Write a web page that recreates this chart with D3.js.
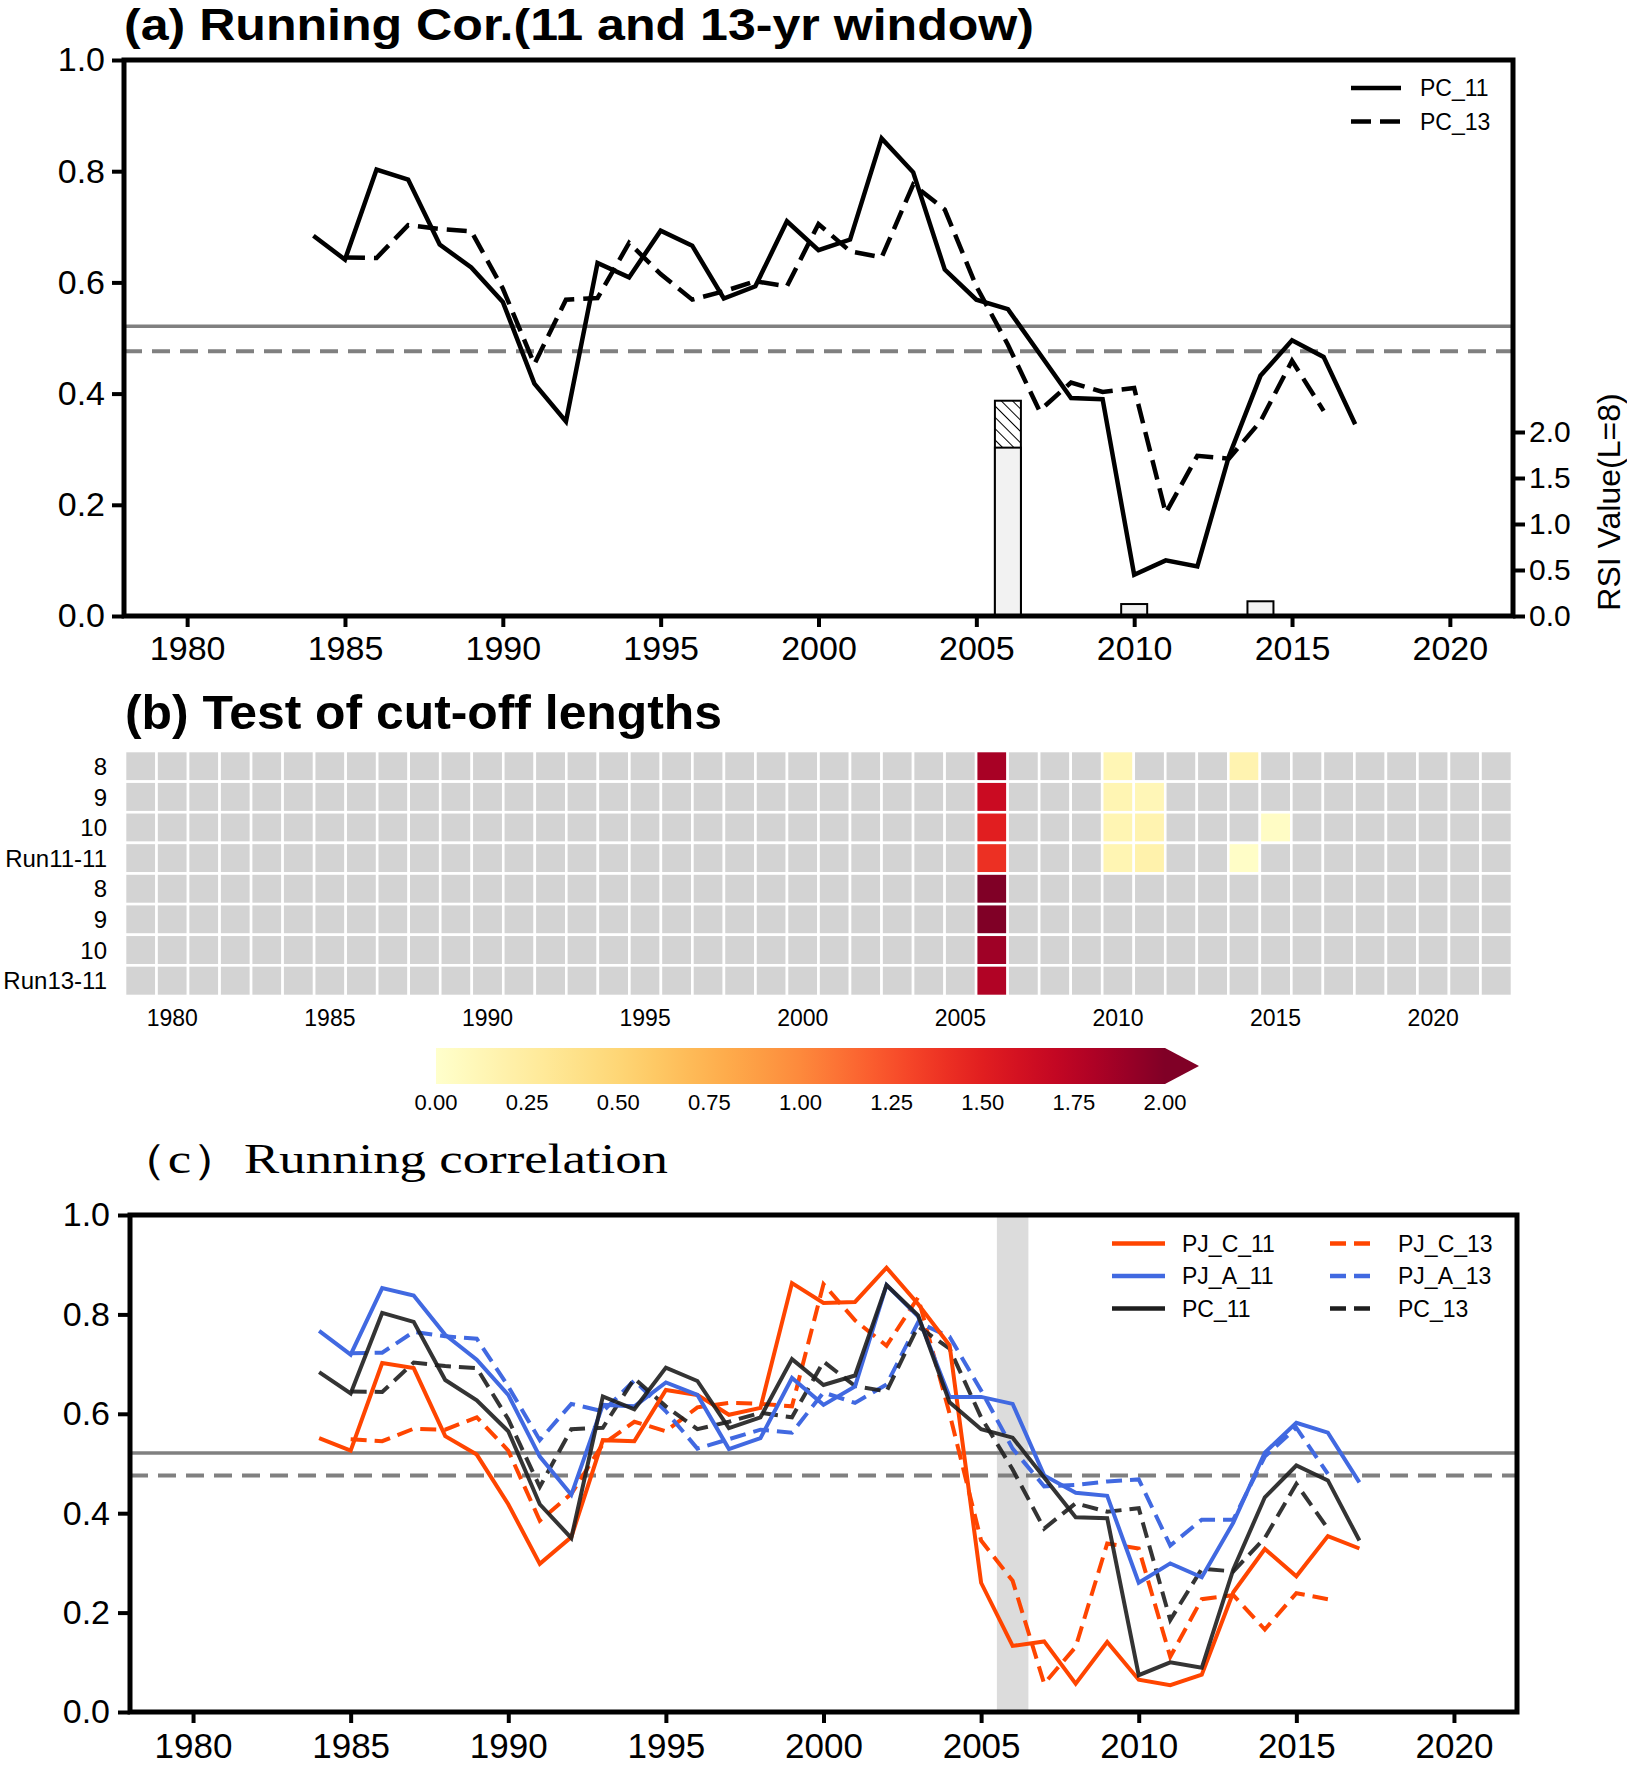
<!DOCTYPE html>
<html lang="en">
<head>
<meta charset="UTF-8">
<title>Running correlation and RSI test</title>
<script src="https://d3js.org/d3.v7.min.js"></script>
<style>
  body { margin: 0; background: #fff; }
  svg { display: block; }
  .tick text { font-family: "Liberation Sans", Arial, sans-serif; fill: #000; }
</style>
</head>
<body>
<script>
// ---- data ----
const years11 = d3.range(1984, 2018);   // 11-yr window centres
const years13 = d3.range(1985, 2017);   // 13-yr window centres

const pc11  = [0.684,0.641,0.803,0.785,0.668,0.627,0.565,0.418,0.350,0.635,0.609,0.693,0.666,0.571,0.593,0.710,
               0.658,0.677,0.859,0.798,0.623,0.569,0.552,0.472,0.392,0.390,0.074,0.100,0.089,0.287,0.432,0.496,0.466,0.345];
const pc13  = [0.645,0.644,0.703,0.696,0.692,0.589,0.453,0.569,0.572,0.671,0.615,0.569,0.584,0.602,0.593,
               0.705,0.656,0.645,0.776,0.731,0.593,0.488,0.369,0.420,0.403,0.410,0.185,0.288,0.283,0.350,0.459,0.369];
const pjc11 = [0.551,0.526,0.702,0.692,0.555,0.518,0.418,0.298,0.352,0.547,0.545,0.648,0.638,0.598,0.612,0.863,
               0.823,0.825,0.894,0.821,0.738,0.260,0.133,0.142,0.057,0.141,0.065,0.054,0.075,0.241,0.328,0.273,0.354,0.329];
const pjc13 = [0.549,0.545,0.570,0.568,0.593,0.526,0.385,0.439,0.539,0.584,0.565,0.613,0.622,0.620,0.615,
               0.861,0.788,0.737,0.834,0.600,0.345,0.264,0.057,0.131,0.339,0.329,0.111,0.227,0.235,0.166,0.239,0.227];
const pja11 = [0.767,0.719,0.853,0.838,0.759,0.709,0.638,0.514,0.437,0.618,0.615,0.663,0.638,0.529,0.551,0.672,
               0.618,0.655,0.859,0.796,0.634,0.634,0.620,0.476,0.441,0.435,0.260,0.299,0.271,0.381,0.522,0.582,0.562,0.462];
const pja13 = [0.722,0.723,0.765,0.756,0.751,0.655,0.547,0.620,0.605,0.667,0.605,0.530,0.549,0.568,0.562,
               0.643,0.622,0.659,0.784,0.755,0.647,0.530,0.454,0.457,0.464,0.468,0.335,0.387,0.387,0.514,0.572,0.479];

// significance thresholds (solid: 11-yr, dashed: 13-yr)
const sig11 = 0.521, sig13 = 0.476;

// RSI heat map: rows x years, only non-zero cells listed
const heatYears = d3.range(1979, 2023);
const rowLabels = ["8", "9", "10", "Run11-11", "8", "9", "10", "Run13-11"];
const rsiCells = [
  [0, 2006, 1.83], [0, 2010, 0.13], [0, 2014, 0.16],
  [1, 2006, 1.66], [1, 2010, 0.14], [1, 2011, 0.12],
  [2, 2006, 1.50], [2, 2010, 0.14], [2, 2011, 0.16], [2, 2015, 0.04],
  [3, 2006, 1.40], [3, 2010, 0.14], [3, 2011, 0.18], [3, 2014, 0.03],
  [4, 2006, 2.34], [5, 2006, 2.40], [6, 2006, 1.87], [7, 2006, 1.79]
];
const cbarTicks = [0, 0.25, 0.5, 0.75, 1.0, 1.25, 1.5, 1.75, 2.0];
const yearTicks = [1980, 1985, 1990, 1995, 2000, 2005, 2010, 2015, 2020];
const corTicks = [0, 0.2, 0.4, 0.6, 0.8, 1.0];
const rsiTicks = [0, 0.5, 1.0, 1.5, 2.0];
const shadeYears = [2005.5, 2006.5];

const W = 1627, H = 1778;
const svg = d3.select("body").append("svg").attr("width", W).attr("height", H);

const SANS = "'Liberation Sans', Arial, sans-serif";
const NARROW = "'Liberation Sans Narrow', 'Liberation Sans', Arial, sans-serif";

// hatch for the 13-yr RSI bar
const defs = svg.append("defs");
defs.append("pattern")
    .attr("id", "hatch")
    .attr("patternUnits", "userSpaceOnUse")
    .attr("width", 8).attr("height", 8)
    .attr("patternTransform", "rotate(-45)")
    .append("line")
    .attr("x1", 0).attr("y1", 0).attr("x2", 0).attr("y2", 8)
    .attr("stroke", "#000").attr("stroke-width", 2);

function styleAxis(g, size) {
    g.select(".domain").remove();
    g.selectAll(".tick line").attr("stroke", "#000").attr("stroke-width", 4);
    g.selectAll(".tick text").attr("font-size", size);
}

// ================= panel (a) =================
const xA = d3.scaleLinear().domain([1978, 2022]).range([124, 1513]);
const yA = d3.scaleLinear().domain([0, 1]).range([616, 60]);
const yR = d3.scaleLinear().domain([0, 2]).range([616, 432]);

svg.append("text")
    .attr("x", 124).attr("y", 40)
    .attr("font-family", NARROW).attr("font-weight", "bold").attr("font-size", 44)
    .attr("textLength", 910).attr("lengthAdjust", "spacingAndGlyphs")
    .text("(a) Running Cor.(11 and 13-yr window)");

const gA = svg.append("g");

gA.append("line")
    .attr("x1", xA(1978)).attr("x2", xA(2022)).attr("y1", yA(sig11)).attr("y2", yA(sig11))
    .attr("stroke", "#808080").attr("stroke-width", 3.5);
gA.append("line")
    .attr("x1", xA(1978)).attr("x2", xA(2022)).attr("y1", yA(sig13)).attr("y2", yA(sig13))
    .attr("stroke", "#808080").attr("stroke-width", 4).attr("stroke-dasharray", "18,10");

// RSI bars (L=8): 13-yr behind (hatched), 11-yr in front
const barW = 26;
const rsi13 = rsiCells.filter(c => c[0] === 4);
const rsi11 = rsiCells.filter(c => c[0] === 0);
gA.selectAll(".bar13").data(rsi13).join("rect")
    .attr("x", d => xA(d[1]) - barW / 2).attr("width", barW)
    .attr("y", d => yR(d[2])).attr("height", d => yR(0) - yR(d[2]))
    .attr("fill", "url(#hatch)").attr("stroke", "#000").attr("stroke-width", 2);
gA.selectAll(".bar11").data(rsi11).join("rect")
    .attr("x", d => xA(d[1]) - barW / 2).attr("width", barW)
    .attr("y", d => yR(d[2])).attr("height", d => yR(0) - yR(d[2]))
    .attr("fill", "#f2f2f2").attr("stroke", "#000").attr("stroke-width", 2);

const lineA = d3.line().x(d => xA(d[0])).y(d => yA(d[1]));
gA.append("path").attr("d", lineA(d3.zip(years13, pc13)))
    .attr("fill", "none").attr("stroke", "#000").attr("stroke-width", 4.5)
    .attr("stroke-dasharray", "20,9");
gA.append("path").attr("d", lineA(d3.zip(years11, pc11)))
    .attr("fill", "none").attr("stroke", "#000").attr("stroke-width", 4.5);

// frame + axes
gA.append("rect").attr("x", 124).attr("y", 60).attr("width", 1513 - 124).attr("height", 556)
    .attr("fill", "none").attr("stroke", "#000").attr("stroke-width", 5);

gA.append("g").attr("transform", "translate(124,0)")
    .call(d3.axisLeft(yA).tickValues(corTicks).tickFormat(d3.format(".1f")).tickSize(12).tickPadding(7))
    .call(g => styleAxis(g, 34));
gA.append("g").attr("transform", "translate(0,616)")
    .call(d3.axisBottom(xA).tickValues(yearTicks).tickFormat(d3.format("d")).tickSize(11).tickPadding(9))
    .call(g => styleAxis(g, 34));
gA.append("g").attr("transform", "translate(1513,0)")
    .call(d3.axisRight(yR).tickValues(rsiTicks).tickFormat(d3.format(".1f")).tickSize(12).tickPadding(4))
    .call(g => styleAxis(g, 30));

gA.append("text")
    .attr("transform", "translate(1620,502) rotate(-90)")
    .attr("text-anchor", "middle")
    .attr("font-family", SANS).attr("font-size", 32)
    .text("RSI Value(L=8)");

// legend (a)
const legA = [["PC_11", null], ["PC_13", "20,9"]];
legA.forEach((d, i) => {
    const y = 88 + i * 33.6;
    gA.append("line").attr("x1", 1351).attr("x2", 1401).attr("y1", y).attr("y2", y)
        .attr("stroke", "#000").attr("stroke-width", 4.5)
        .attr("stroke-dasharray", d[1] ? "20,9" : null);
    gA.append("text").attr("x", 1420).attr("y", y).attr("dy", "0.36em")
        .attr("font-family", SANS).attr("font-size", 23).text(d[0]);
});

// ================= panel (b) =================
svg.append("text")
    .attr("x", 125).attr("y", 729)
    .attr("font-family", NARROW).attr("font-weight", "bold").attr("font-size", 48)
    .attr("textLength", 597).attr("lengthAdjust", "spacingAndGlyphs")
    .text("(b) Test of cut-off lengths");

const xB = d3.scaleBand().domain(heatYears).range([125, 1512]);
const yB = d3.scaleBand().domain(d3.range(rowLabels.length)).range([751, 996]);
const color = d3.scaleSequential(d3.interpolateYlOrRd).domain([0, 2]).clamp(true);
const cellVal = new Map(rsiCells.map(c => [c[0] + "-" + c[1], c[2]]));

const grid = [];
rowLabels.forEach((r, i) => heatYears.forEach(yr => grid.push({ row: i, year: yr, v: cellVal.get(i + "-" + yr) })));

const gB = svg.append("g");
gB.selectAll("rect").data(grid).join("rect")
    .attr("x", d => xB(d.year)).attr("y", d => yB(d.row))
    .attr("width", xB.bandwidth()).attr("height", yB.bandwidth())
    .attr("fill", d => d.v === undefined ? "#d3d3d3" : color(d.v))
    .attr("stroke", "#fff").attr("stroke-width", 2.6);

gB.selectAll(".rowlab").data(rowLabels).join("text")
    .attr("x", 107).attr("y", (d, i) => yB(i) + yB.bandwidth() / 2).attr("dy", "0.36em")
    .attr("text-anchor", "end").attr("font-family", SANS).attr("font-size", 24)
    .text(d => d);

gB.selectAll(".collab").data(yearTicks).join("text")
    .attr("x", d => xB(d) + xB.bandwidth() / 2).attr("y", 1026)
    .attr("text-anchor", "middle").attr("font-family", SANS).attr("font-size", 23)
    .text(d => d);

// colour bar
const xCb = d3.scaleLinear().domain([0, 2]).range([436, 1165]);
const grad = defs.append("linearGradient").attr("id", "cbar");
d3.range(0, 1.0001, 0.05).forEach(t => {
    grad.append("stop").attr("offset", t).attr("stop-color", d3.interpolateYlOrRd(t));
});
gB.append("rect").attr("x", xCb(0)).attr("y", 1048).attr("width", xCb(2) - xCb(0)).attr("height", 36)
    .attr("fill", "url(#cbar)");
gB.append("path")
    .attr("d", `M${xCb(2)},1048 L${xCb(2) + 34},1066 L${xCb(2)},1084 Z`)
    .attr("fill", d3.interpolateYlOrRd(1));
gB.selectAll(".cblab").data(cbarTicks).join("text")
    .attr("x", d => xCb(d)).attr("y", 1110)
    .attr("text-anchor", "middle").attr("font-family", SANS).attr("font-size", 22)
    .text(d => d3.format(".2f")(d));

// ================= panel (c) =================
svg.append("text")
    .attr("x", 115).attr("y", 1173)
    .attr("font-family", "'Liberation Serif', 'DejaVu Serif', serif").attr("font-size", 42)
    .attr("textLength", 553).attr("lengthAdjust", "spacingAndGlyphs")
    .text("（c）Running correlation");

const xC = d3.scaleLinear().domain([1978, 2022]).range([130, 1517]);
const yC = d3.scaleLinear().domain([0, 1]).range([1712, 1215]);
const gC = svg.append("g");

gC.append("rect")
    .attr("x", xC(shadeYears[0])).attr("width", xC(shadeYears[1]) - xC(shadeYears[0]))
    .attr("y", yC(1)).attr("height", yC(0) - yC(1)).attr("fill", "#dcdcdc");

gC.append("line")
    .attr("x1", xC(1978)).attr("x2", xC(2022)).attr("y1", yC(sig11)).attr("y2", yC(sig11))
    .attr("stroke", "#808080").attr("stroke-width", 3.5);
gC.append("line")
    .attr("x1", xC(1978)).attr("x2", xC(2022)).attr("y1", yC(sig13)).attr("y2", yC(sig13))
    .attr("stroke", "#808080").attr("stroke-width", 4).attr("stroke-dasharray", "18,10");

const ORANGE = "#ff4500", BLUE = "#4169e1", DARK = "#1e1e1e";
const seriesC = [
    { name: "PJ_C_13", years: years13, vals: pjc13, color: ORANGE, dash: true },
    { name: "PJ_A_13", years: years13, vals: pja13, color: BLUE, dash: true },
    { name: "PC_13",   years: years13, vals: pc13,  color: DARK, dash: true },
    { name: "PJ_C_11", years: years11, vals: pjc11, color: ORANGE, dash: false },
    { name: "PJ_A_11", years: years11, vals: pja11, color: BLUE, dash: false },
    { name: "PC_11",   years: years11, vals: pc11,  color: DARK, dash: false }
];
const lineC = d3.line().x(d => xC(d[0])).y(d => yC(d[1]));
gC.selectAll(".ser").data(seriesC).join("path")
    .attr("d", s => lineC(d3.zip(s.years, s.vals)))
    .attr("fill", "none").attr("stroke", s => s.color).attr("stroke-width", 4)
    .attr("stroke-opacity", s => s.color === DARK ? 0.9 : 1)
    .attr("stroke-dasharray", s => s.dash ? "16,8" : null);

gC.append("rect").attr("x", 130).attr("y", 1215).attr("width", 1517 - 130).attr("height", 1712 - 1215)
    .attr("fill", "none").attr("stroke", "#000").attr("stroke-width", 5);

gC.append("g").attr("transform", "translate(130,0)")
    .call(d3.axisLeft(yC).tickValues(corTicks).tickFormat(d3.format(".1f")).tickSize(12).tickPadding(8))
    .call(g => styleAxis(g, 34));
gC.append("g").attr("transform", "translate(0,1712)")
    .call(d3.axisBottom(xC).tickValues(yearTicks).tickFormat(d3.format("d")).tickSize(11).tickPadding(10))
    .call(g => styleAxis(g, 35));

// legend (c): 11-yr column left, 13-yr column right
const legRows = ["PJ_C", "PJ_A", "PC"];
const legY = [1243.6, 1275.9, 1308.5];
seriesC.forEach(s => {
    const base = s.name.replace(/_1[13]$/, "");
    const y = legY[legRows.indexOf(base)];
    const x0 = s.dash ? 1330 : 1112, x1 = s.dash ? 1378 : 1165, tx = s.dash ? 1398 : 1182;
    gC.append("line").attr("x1", x0).attr("x2", x1).attr("y1", y).attr("y2", y)
        .attr("stroke", s.color).attr("stroke-width", 4.5)
        .attr("stroke-dasharray", s.dash ? "16,8" : null);
    gC.append("text").attr("x", tx).attr("y", y).attr("dy", "0.36em")
        .attr("font-family", SANS).attr("font-size", 23).text(s.name);
});
</script>
</body>
</html>
